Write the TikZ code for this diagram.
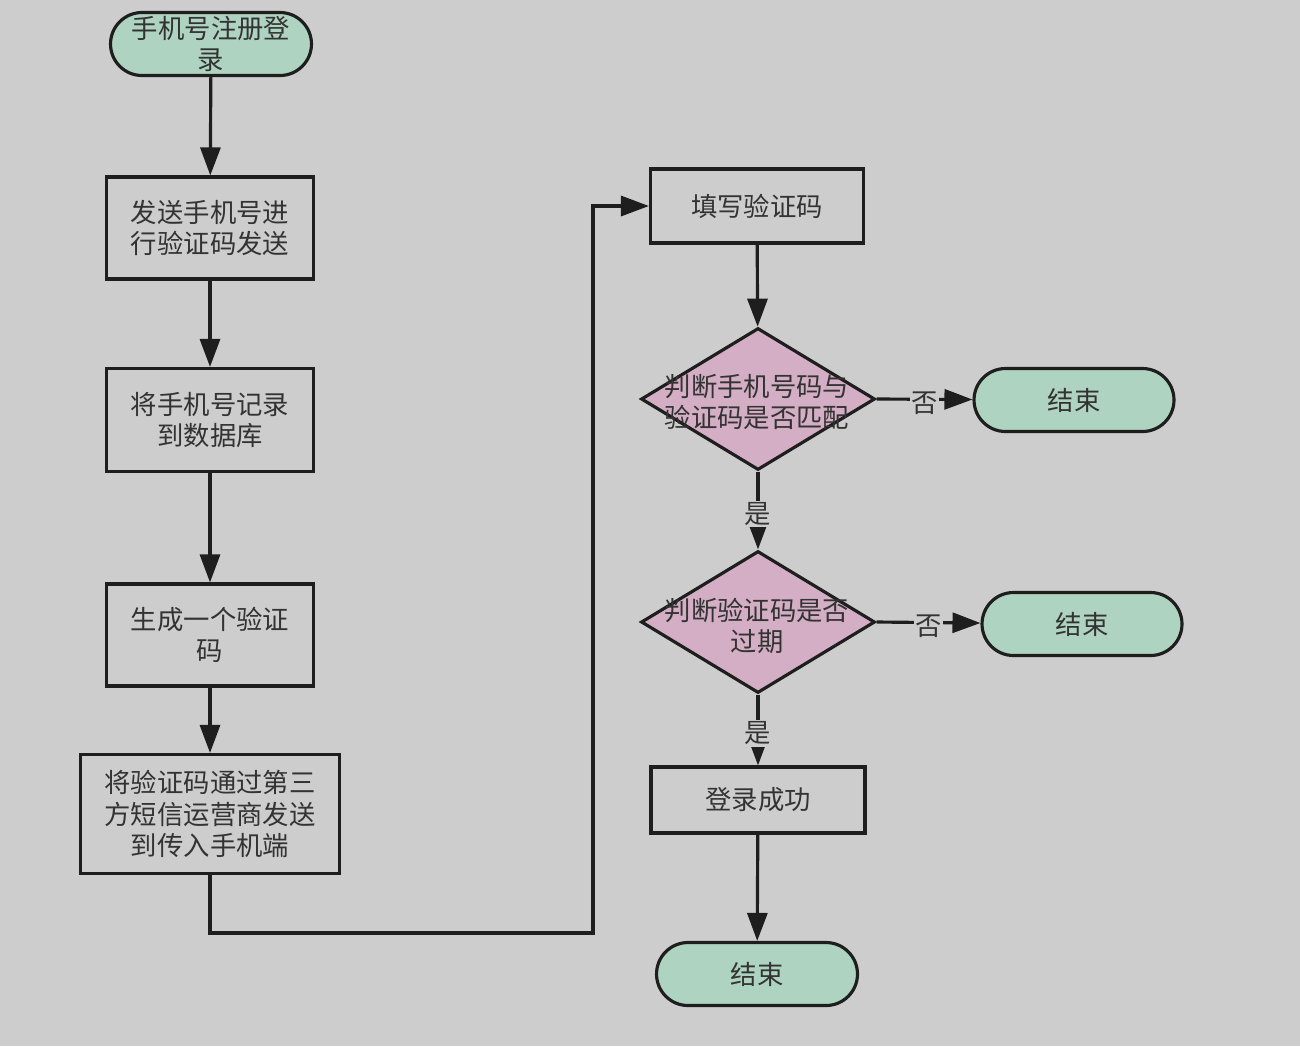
\documentclass[tikz,border=0pt]{standalone}
\usepackage{fontspec}
\setmainfont{Noto Sans CJK SC}
\usetikzlibrary{shapes.geometric,shapes.misc,arrows.meta}
\definecolor{bg}{HTML}{CDCDCD}
\definecolor{grn}{HTML}{AED3C0}
\definecolor{pnk}{HTML}{D3AEC4}
\definecolor{txt}{HTML}{333333}
\definecolor{ln}{HTML}{1E1E1E}
\tikzset{
 base/.style={font=\fontsize{15}{18}\selectfont, text=txt, align=center, inner sep=0pt},
 proc/.style={base, draw=ln, line width=1.8pt, rectangle},
 term/.style={base, draw=ln, line width=1.8pt, fill=grn, rounded rectangle},
 dec/.style={draw=ln, line width=1.8pt, fill=pnk, diamond, inner sep=0pt, minimum width=4.68cm, minimum height=2.84cm},
 arr/.style={draw=ln, line width=1.8pt, -{Triangle[length=0.56cm,width=0.4cm]}},
 lab/.style={base, fill=bg, inner sep=1pt}
}
\begin{document}
\begin{tikzpicture}[x=0.02cm,y=-0.02cm]
\fill[bg] (0,0) rectangle (1300,1046);
\useasboundingbox (0,0) rectangle (1300,1046);
\node[term, minimum width=4.02cm, minimum height=1.26cm] (start) at (211,44) {手机号注册登\\录};
\node[proc, minimum width=4.14cm, minimum height=2.04cm] (b1) at (210,228) {发送手机号进\\行验证码发送};
\node[proc, minimum width=4.14cm, minimum height=2.06cm] (b2) at (210,420) {将手机号记录\\到数据库};
\node[proc, minimum width=4.14cm, minimum height=2.04cm] (b3) at (210,635) {生成一个验证\\码};
\node[proc, minimum width=5.18cm, minimum height=2.38cm] (b4) at (210,814) {将验证码通过第三\\方短信运营商发送\\到传入手机端};
\node[proc, minimum width=4.26cm, minimum height=1.48cm] (b5) at (757,206) {填写验证码};
\node[dec] (d1) at (758,399) {};
\node[base] (d1t) at (757,402) {判断手机号码与\\验证码是否匹配};
\node[term, minimum width=4.0cm, minimum height=1.26cm] (e1) at (1074,400) {结束};
\node[dec] (d2) at (758,622) {};
\node[base] (d2t) at (757,626) {判断验证码是否\\过期};
\node[term, minimum width=4.0cm, minimum height=1.26cm] (e2) at (1082,624) {结束};
\node[proc, minimum width=4.28cm, minimum height=1.32cm] (b6) at (758,800) {登录成功};
\node[term, minimum width=4.02cm, minimum height=1.26cm] (e3) at (757,974) {结束};
\coordinate (c1) at (593,933);
\draw[arr] (start) -- (b1);
\draw[arr] (b1) -- (b2);
\draw[arr] (b2) -- (b3);
\draw[arr] (b3) -- (b4);
\draw[arr] (b4.south) |- (c1) |- (b5.west);
\draw[arr] (b5) -- (d1);
\draw[arr] (d1.east) -- node[lab, yshift=-2pt] (l1) {否} (e1);
\draw[arr] (d1.south) -- node[lab, yshift=-2pt] (l2) {是} (d2.north);
\draw[arr] (d2.east) -- node[lab, yshift=-2pt] (l3) {否} (e2);
\draw[arr] (d2.south) -- node[lab, yshift=-2pt] (l4) {是} (b6);
\draw[arr] (b6) -- (e3);
\end{tikzpicture}
\end{document}
